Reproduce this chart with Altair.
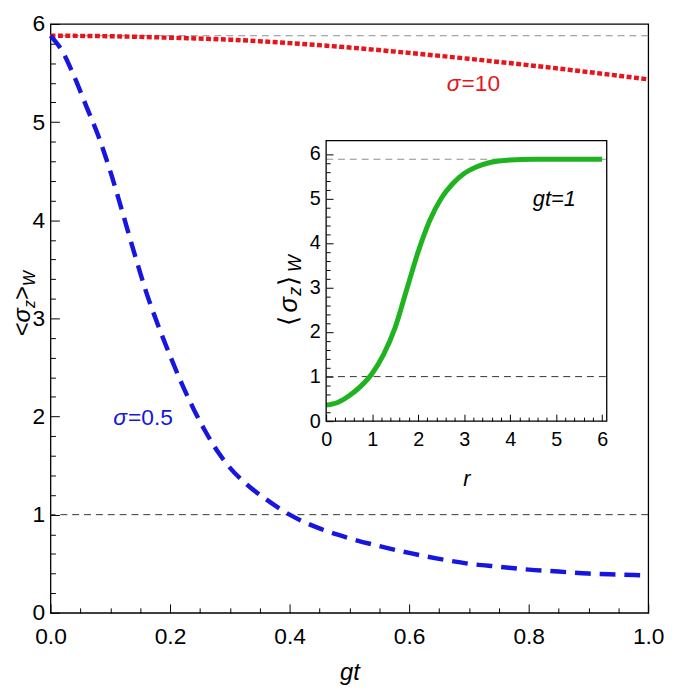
import altair as alt
import pandas as pd

# ---------------- data ----------------
gt_red = [0.0, 0.1, 0.2, 0.3, 0.4, 0.5, 0.6, 0.7, 0.8, 0.9, 1.0]
sz_red = [5.88, 5.875, 5.86, 5.84, 5.805, 5.76, 5.705, 5.645, 5.58, 5.51, 5.435]

gt_blue = [0.0, 0.02, 0.04, 0.06, 0.08, 0.10, 0.12, 0.14, 0.16, 0.18, 0.20, 0.22,
           0.24, 0.26, 0.28, 0.30, 0.33, 0.36, 0.40, 0.45, 0.50, 0.55, 0.60, 0.65,
           0.70, 0.75, 0.80, 0.85, 0.90, 0.95, 1.0]
sz_blue = [5.88, 5.72, 5.46, 5.16, 4.86, 4.50, 4.09, 3.67, 3.27, 2.93, 2.62, 2.33,
           2.07, 1.84, 1.64, 1.48, 1.30, 1.16, 1.00, 0.86, 0.76, 0.68, 0.61, 0.55,
           0.50, 0.47, 0.44, 0.42, 0.40, 0.39, 0.38]

r_green = [0.0, 0.25, 0.5, 0.75, 1.0, 1.25, 1.5, 1.75, 2.0, 2.25, 2.5, 2.75, 3.0,
           3.25, 3.5, 3.75, 4.0, 4.5, 5.0, 5.5, 6.0]
sz_green = [0.36, 0.42, 0.57, 0.78, 1.07, 1.5, 2.1, 2.95, 3.8, 4.5, 5.0, 5.33,
            5.56, 5.7, 5.79, 5.84, 5.865, 5.88, 5.88, 5.88, 5.88]

ref_levels = [5.88, 1.0]
ref_colors = ["#8c8c8c", "#333333"]

# curve labels: italic part / upright part
lab_italic = ["σ", "σ"]
lab_upright = ["=10", "=0.5"]
lab_x = [0.686, 0.128]
lab_y = [5.39, 1.98]
lab_color = ["#e8141c", "#1616e0"]

inset_note = "gt=1"
inset_note_r = 4.96
inset_note_s = 4.98

main_x_labels = [0.0, 0.2, 0.4, 0.6, 0.8, 1.0]
main_y_labels = [0, 1, 2, 3, 4, 5, 6]
inset_labels = [0, 1, 2, 3, 4, 5, 6]
main_x_ticks = [round(i * 0.05, 2) for i in range(21)]
main_y_ticks = [round(i * 0.2, 1) for i in range(31)]
inset_ticks = [round(i * 0.2, 1) for i in range(31)]

# ---------------- layout ----------------
FONT = "Liberation Sans"
W, H = 605, 596
IN_L, IN_R, IN_T, IN_B = 279, 563, 118, 402
R_MAX = 6.1
S_IN_MAX = 6.3

red_df = pd.DataFrame({"gt": gt_red, "s": sz_red})
blue_df = pd.DataFrame({"gt": gt_blue, "s": sz_blue})
green_df = pd.DataFrame({"r": r_green, "s": sz_green})
ref_df = pd.DataFrame({"s": ref_levels, "c": ref_colors})
lab_df = pd.DataFrame({"ti": lab_italic, "tu": lab_upright, "x": lab_x, "y": lab_y, "c": lab_color})
iref_df = pd.DataFrame({"s": ref_levels, "c": ref_colors, "x0": [0, 0], "x1": [R_MAX, R_MAX]})
frame_df = pd.DataFrame({"x0": [0], "x1": [R_MAX], "y0": [0], "y1": [S_IN_MAX]})
note_df = pd.DataFrame({"t": [inset_note], "r": [inset_note_r], "s": [inset_note_s]})
one = pd.DataFrame({"a": [0]})


def tick_axis(orient, offset, values, test, major, minor):
    return alt.Axis(orient=orient, offset=offset, values=values, labels=False,
                    domain=False, grid=False, title=None, ticks=True,
                    tickColor="black", tickWidth=1,
                    tickSize={"condition": {"test": test, "value": major}, "value": minor})


def title_pieces(pieces, y_center, x_base, sub_shift):
    total = sum(p[2] for p in pieces)
    y = y_center + total / 2
    out = []
    for txt, size, w, italic, sub in pieces:
        out.append(
            alt.Chart(one).mark_text(
                text=txt, angle=270, align="left", baseline="alphabetic",
                font=FONT, fontSize=size, fontStyle="italic" if italic else "normal",
                color="black",
            ).encode(x=alt.value(x_base + (sub_shift if sub else 0)), y=alt.value(y))
        )
        y -= w
    return out


# ---------------- main panel ----------------
xm = alt.Scale(domain=[0, 1], nice=False, zero=False)
ym = alt.Scale(domain=[0, 6], nice=False)
x_lab = alt.Axis(values=main_x_labels, format=".1f", ticks=False, domain=False, grid=False,
                 labelFont=FONT, labelFontSize=23, labelColor="black", labelPadding=13,
                 labelFlush=False, labelOverlap=False,
                 title="gt", titleFont=FONT, titleFontSize=24, titleFontStyle="italic",
                 titleFontWeight="normal", titleColor="black", titlePadding=12)
y_lab = alt.Axis(values=main_y_labels, format="d", ticks=False, domain=False, grid=False,
                 labelFont=FONT, labelFontSize=23, labelColor="black", labelPadding=6,
                 labelFlush=False, labelOverlap=False, title=None)
XM = alt.X("gt:Q", scale=xm, axis=x_lab)
YM = alt.Y("s:Q", scale=ym, axis=y_lab)

refs = alt.Chart(ref_df).mark_rule(strokeWidth=1, strokeDash=[7, 5]).encode(
    y=YM, color=alt.Color("c:N", scale=None))
red = alt.Chart(red_df).mark_line(color="#e8141c", strokeWidth=4.5, strokeDash=[5, 2.5],
                                  interpolate="monotone").encode(x=XM, y=YM)
blue = alt.Chart(blue_df).mark_line(color="#1616e0", strokeWidth=4.5, strokeDash=[16, 9],
                                    interpolate="monotone").encode(x=XM, y=YM)
lab_i = alt.Chart(lab_df).mark_text(font=FONT, fontSize=23, fontStyle="italic", align="right",
                                    baseline="middle").encode(
    x=alt.X("x:Q", scale=xm, axis=x_lab), y=alt.Y("y:Q", scale=ym, axis=y_lab),
    text="ti:N", color=alt.Color("c:N", scale=None))
lab_u = alt.Chart(lab_df).mark_text(font=FONT, fontSize=23, align="left", dx=1,
                                    baseline="middle").encode(
    x=alt.X("x:Q", scale=xm, axis=x_lab), y=alt.Y("y:Q", scale=ym, axis=y_lab),
    text="tu:N", color=alt.Color("c:N", scale=None))

main_title = title_pieces(
    [("<", 24, 14.0, False, False), ("σ", 24, 14.6, True, False), ("z", 16, 8.2, True, True),
     (">", 24, 14.0, False, False), ("W", 16, 15.4, True, True)],
    y_center=283, x_base=-21, sub_shift=5)

main = alt.layer(refs, red, blue, lab_i, lab_u, *main_title)

main_ticks = alt.Chart(red_df).mark_point(opacity=0).encode(
    x=alt.X("gt:Q", scale=xm,
            axis=tick_axis("top", -H, main_x_ticks,
                           "abs(datum.value*5 - round(datum.value*5)) < 0.001", 9, 5)),
    y=alt.Y("s:Q", scale=ym,
            axis=tick_axis("right", -W, main_y_ticks,
                           "abs(datum.value - round(datum.value)) < 0.001", 9, 5)),
)

# ---------------- inset ----------------
xi = alt.Scale(domain=[0, R_MAX], range=[IN_L, IN_R], nice=False, zero=False)
yi = alt.Scale(domain=[0, S_IN_MAX], range=[IN_B, IN_T], nice=False)
xi_lab = alt.Axis(values=inset_labels, format="d", ticks=False, domain=False, grid=False,
                  offset=IN_B - H, labelFont=FONT, labelFontSize=20, labelColor="black",
                  labelPadding=9, labelFlush=False, labelOverlap=False,
                  title="r", titleFont=FONT, titleFontSize=22, titleFontStyle="italic",
                  titleFontWeight="normal", titleColor="black", titlePadding=19)
yi_lab = alt.Axis(values=inset_labels, format="d", ticks=False, domain=False, grid=False,
                  offset=-IN_L, labelFont=FONT, labelFontSize=20, labelColor="black",
                  labelPadding=6, labelFlush=False, labelOverlap=False, title=None)
XI = alt.X("r:Q", scale=xi, axis=xi_lab)
YI = alt.Y("s:Q", scale=yi, axis=yi_lab)

green = alt.Chart(green_df).mark_line(color="#1fb31f", strokeWidth=5,
                                      interpolate="monotone").encode(x=XI, y=YI)
irefs = alt.Chart(iref_df).mark_rule(strokeWidth=1, strokeDash=[7, 5]).encode(
    x=alt.X("x0:Q", scale=xi, axis=xi_lab), x2="x1:Q", y=YI,
    color=alt.Color("c:N", scale=None))
frame = alt.Chart(frame_df).mark_rect(fill="white", fillOpacity=0, stroke="black",
                                      strokeWidth=1.3).encode(
    x=alt.X("x0:Q", scale=xi, axis=xi_lab), x2="x1:Q",
    y=alt.Y("y0:Q", scale=yi, axis=yi_lab), y2="y1:Q")
note = alt.Chart(note_df).mark_text(font=FONT, fontSize=22, fontStyle="italic",
                                    baseline="middle", color="black").encode(
    x=XI, y=YI, text="t:N")

inset_title = title_pieces(
    [("⟨", 26, 14.0, False, False), ("σ", 26, 17.0, True, False), ("z", 18, 10.0, True, True),
     ("⟩", 26, 14.0, False, False), ("W", 18, 17.0, True, True)],
    y_center=270, x_base=250, sub_shift=4)

inset = alt.layer(irefs, green, frame, note, *inset_title)

inset_ticks_layer = alt.Chart(green_df).mark_point(opacity=0).encode(
    x=alt.X("r:Q", scale=xi,
            axis=tick_axis("top", -IN_B, inset_ticks,
                           "abs(datum.value - round(datum.value)) < 0.001", 7, 4)),
    y=alt.Y("s:Q", scale=yi,
            axis=tick_axis("right", IN_L - W, inset_ticks,
                           "abs(datum.value - round(datum.value)) < 0.001", 7, 4)),
)

chart = alt.layer(main, main_ticks, inset, inset_ticks_layer).resolve_scale(
    x="independent", y="independent"
).properties(
    width=W, height=H,
    autosize=alt.AutoSizeParams(type="none"),
    padding={"left": 43, "top": 12, "right": 19, "bottom": 76},
).configure_view(stroke="black", strokeWidth=1.3)

chart.save("out.html", embed_options={"renderer": "svg", "actions": False})
